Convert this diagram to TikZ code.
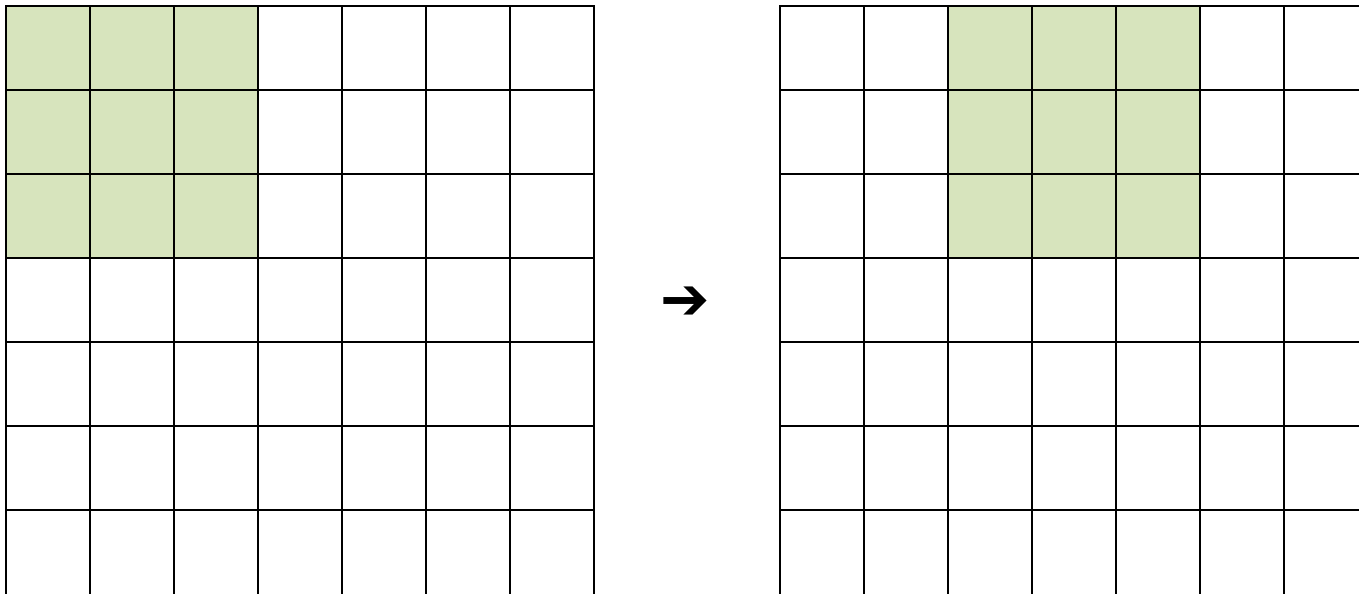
\documentclass[tikz,border=0pt]{standalone}
\usepackage{fontspec}
\usepackage{tikz}
\usetikzlibrary{calc}
\newfontfamily\symfont{DejaVu Sans}
\definecolor{cellgreen}{HTML}{D7E4BD}
\tikzset{
  gridline/.style={line width=0.8pt,draw=black,line cap=rect},
  window/.style={fill=cellgreen},
  slide/.style={font=\symfont\fontsize{20}{20}\selectfont,inner sep=0pt}
}

\begin{document}
\begin{tikzpicture}[x=1cm,y=-1cm]
  \useasboundingbox (0,0) rectangle (16.179,7.071);
  \clip (0,0) rectangle (16.179,7.071);
  % input grid, window in the top left corner
  \coordinate (in) at (0.071,0.071);
  \fill[window] (in) rectangle ++(3,3);
  \foreach \i in {0,...,7}
    \draw[gridline] ($(in)+(\i,0)$) -- ++(0,7.2);
  \foreach \j in {0,...,6}
    \draw[gridline] ($(in)+(0,\j)$) -- ++(7,0);
  % window moved two cells to the right
  \coordinate (out) at (9.286,0.071);
  \fill[window] ($(out)+(2,0)$) rectangle ++(3,3);
  \foreach \i in {0,...,7}
    \draw[gridline] ($(out)+(\i,0)$) -- ++(0,7.2);
  \foreach \j in {0,...,6}
    \draw[gridline] ($(out)+(0,\j)$) -- ++(7.2,0);
  \node[slide] (step) at (8.155,3.607) {➔};
\end{tikzpicture}
\end{document}
